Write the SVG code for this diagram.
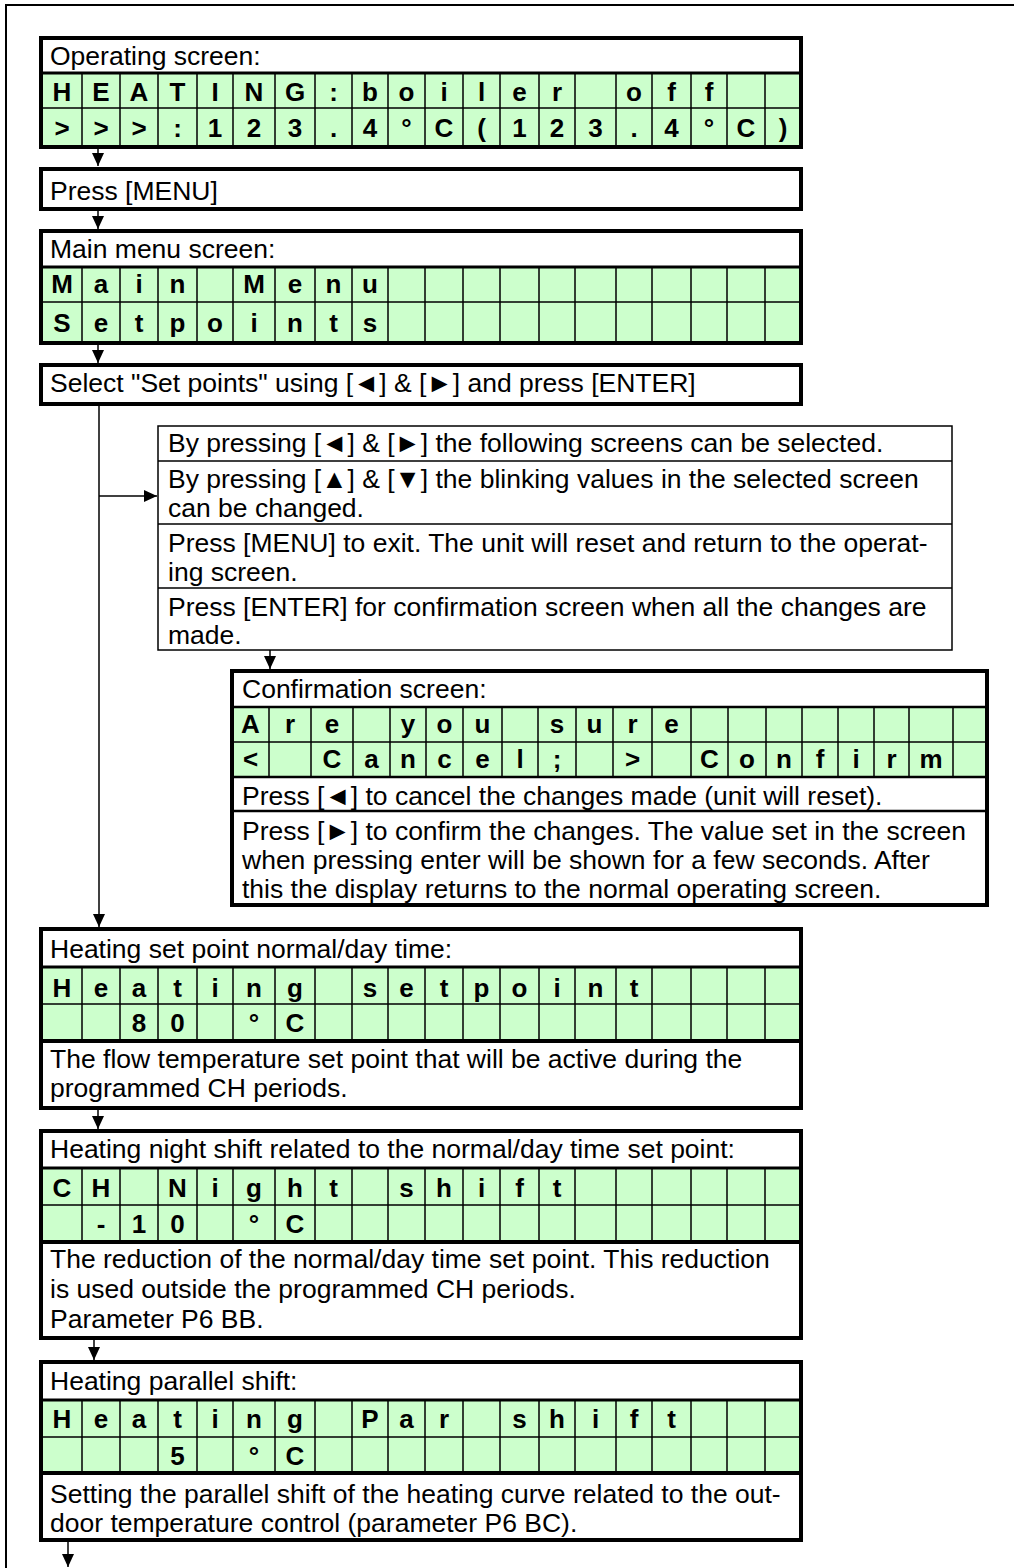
<svg xmlns="http://www.w3.org/2000/svg" width="1014" height="1568" viewBox="0 0 1014 1568">
<defs>
<style>
.t{font-family:"Liberation Sans",Arial,sans-serif;font-size:26.5px;fill:#000}
.c{font-family:"Liberation Sans",Arial,sans-serif;font-size:26px;font-weight:bold;text-anchor:middle;fill:#000}
.box{fill:#fff;stroke:#000;stroke-width:4}
.thin{fill:#fff;stroke:#000;stroke-width:1.5}
.g{fill:#CCFFCC}
.cl{stroke:#000;stroke-width:1.5;fill:none}
.d3{stroke:#000;stroke-width:3;fill:none}
.d4{stroke:#000;stroke-width:4;fill:none}
.conn{stroke:#000;stroke-width:1.5;fill:none;marker-end:url(#ah)}
</style>
<marker id="ah" markerUnits="userSpaceOnUse" markerWidth="13" markerHeight="12" viewBox="0 0 13 12" refX="13" refY="6" orient="auto">
<path d="M0,0 L13,6 L0,12 z" fill="#000"/>
</marker>
</defs>
<rect width="1014" height="1568" fill="#fff"/>
<path d="M6,1568 V5 H1014" fill="none" stroke="#000" stroke-width="2"/>

<g id="operating-screen">
<rect class="box" x="41" y="38" width="760" height="109"/>
<rect class="g" x="43" y="73" width="756" height="72"/>
<path class="cl" d="M82,73V147M120,73V147M158,73V147M197,73V147M233,73V147M275,73V147M315,73V147M352,73V147M388,73V147M425,73V147M463,73V147M500,73V147M539,73V147M575,73V147M616,73V147M652,73V147M691,73V147M727,73V147M765,73V147M41,108H801"/>
<path class="d3" d="M41,73H801"/>
<rect x="41" y="38" width="760" height="109" fill="none" stroke="#000" stroke-width="4"/>
<text class="t" x="50" y="65">Operating screen:</text>
<text class="c" y="101" x="62 101 139 177.5 215 254 295 333.5 370 406.5 444 481.5 519.5 557 634 671.5 709">HEATING:boileroff</text>
<text class="c" y="137" x="62 101 139 177.5 215 254 295 333.5 370 406.5 444 481.5 519.5 557 595.5 634 671.5 709 746 783">&gt;&gt;&gt;:123.4°C(123.4°C)</text>
</g>

<g id="press-menu">
<rect class="box" x="41" y="169" width="760" height="40"/>
<text class="t" x="50" y="200">Press [MENU]</text>
</g>

<g id="main-menu-screen">
<rect class="box" x="41" y="231" width="760" height="112"/>
<rect class="g" x="43" y="267" width="756" height="74"/>
<path class="cl" d="M82,267V343M120,267V343M158,267V343M197,267V343M233,267V343M275,267V343M315,267V343M352,267V343M388,267V343M425,267V343M463,267V343M500,267V343M539,267V343M575,267V343M616,267V343M652,267V343M691,267V343M727,267V343M765,267V343M41,302H801"/>
<path class="d3" d="M41,267H801"/>
<rect x="41" y="231" width="760" height="112" fill="none" stroke="#000" stroke-width="4"/>
<text class="t" x="50" y="258">Main menu screen:</text>
<text class="c" y="293" x="62 101 139 177.5 254 295 333.5 370">MainMenu</text>
<text class="c" y="332" x="62 101 139 177.5 215 254 295 333.5 370">Setpoints</text>
</g>

<g id="select-setpoints">
<rect class="box" x="41" y="365" width="760" height="39"/>
<text class="t" x="50" y="392">Select "Set points" using [◄] &amp; [►] and press [ENTER]</text>
</g>

<g id="instructions">
<rect class="thin" x="158" y="426" width="794" height="224"/>
<path class="cl" d="M158,461H952M158,524H952M158,588H952"/>
<text class="t" x="168" y="452">By pressing [◄] &amp; [►] the following screens can be selected.</text>
<text class="t" x="168" y="488">By pressing [▲] &amp; [▼] the blinking values in the selected screen</text>
<text class="t" x="168" y="517">can be changed.</text>
<text class="t" x="168" y="552">Press [MENU] to exit. The unit will reset and return to the operat-</text>
<text class="t" x="168" y="581">ing screen.</text>
<text class="t" x="168" y="616">Press [ENTER] for confirmation screen when all the changes are</text>
<text class="t" x="168" y="644">made.</text>
</g>

<g id="confirmation-screen">
<rect class="box" x="232" y="671" width="755" height="234"/>
<rect class="g" x="234" y="707" width="751" height="70"/>
<path class="cl" d="M269,707V777M311,707V777M353,707V777M390,707V777M426,707V777M463,707V777M502,707V777M538,707V777M576,707V777M613,707V777M652,707V777M691,707V777M728,707V777M766,707V777M802,707V777M838,707V777M874,707V777M909,707V777M953,707V777M232,742H987"/>
<path d="M232,707H987M232,777H987M232,811H987" stroke="#000" stroke-width="2.5" fill="none"/>
<rect x="232" y="671" width="755" height="234" fill="none" stroke="#000" stroke-width="4"/>
<text class="t" x="242" y="698">Confirmation screen:</text>
<text class="c" y="733" x="250.5 290 332 408 444.5 482.5 557 594.5 632.5 671.5">Areyousure</text>
<text class="c" y="768" x="250.5 332 371.5 408 444.5 482.5 520 557 632.5 709.5 747 784 820 856 891.5 931">&lt;Cancel;&gt;Confirm</text>
<text class="t" x="242" y="805">Press [◄] to cancel the changes made (unit will reset).</text>
<text class="t" x="242" y="840">Press [►] to confirm the changes. The value set in the screen</text>
<text class="t" x="242" y="869">when pressing enter will be shown for a few seconds. After</text>
<text class="t" x="242" y="898">this the display returns to the normal operating screen.</text>
</g>

<g id="heating-setpoint">
<rect class="box" x="41" y="929" width="760" height="179"/>
<rect class="g" x="43" y="967" width="756" height="74"/>
<path class="cl" d="M82,967V1041M120,967V1041M158,967V1041M197,967V1041M233,967V1041M275,967V1041M315,967V1041M352,967V1041M388,967V1041M425,967V1041M463,967V1041M500,967V1041M539,967V1041M575,967V1041M616,967V1041M652,967V1041M691,967V1041M727,967V1041M765,967V1041M41,1004H801"/>
<path class="d3" d="M41,967H801"/>
<path class="d4" d="M41,1041H801"/>
<rect x="41" y="929" width="760" height="179" fill="none" stroke="#000" stroke-width="4"/>
<text class="t" x="50" y="958">Heating set point normal/day time:</text>
<text class="c" y="997" x="62 101 139 177.5 215 254 295 370 406.5 444 481.5 519.5 557 595.5 634">Heatingsetpoint</text>
<text class="c" y="1032" x="139 177.5 254 295">80°C</text>
<text class="t" x="50" y="1068">The flow temperature set point that will be active during the</text>
<text class="t" x="50" y="1097">programmed CH periods.</text>
</g>

<g id="night-shift">
<rect class="box" x="41" y="1131" width="760" height="207"/>
<rect class="g" x="43" y="1168" width="756" height="74"/>
<path class="cl" d="M82,1168V1242M120,1168V1242M158,1168V1242M197,1168V1242M233,1168V1242M275,1168V1242M315,1168V1242M352,1168V1242M388,1168V1242M425,1168V1242M463,1168V1242M500,1168V1242M539,1168V1242M575,1168V1242M616,1168V1242M652,1168V1242M691,1168V1242M727,1168V1242M765,1168V1242M41,1205H801"/>
<path class="d3" d="M41,1168H801"/>
<path class="d4" d="M41,1242H801"/>
<rect x="41" y="1131" width="760" height="207" fill="none" stroke="#000" stroke-width="4"/>
<text class="t" x="50" y="1158">Heating night shift related to the normal/day time set point:</text>
<text class="c" y="1197" x="62 101 177.5 215 254 295 333.5 406.5 444 481.5 519.5 557">CHNightshift</text>
<text class="c" y="1233" x="101 139 177.5 254 295">-10°C</text>
<text class="t" x="50" y="1268">The reduction of the normal/day time set point. This reduction</text>
<text class="t" x="50" y="1298">is used outside the programmed CH periods.</text>
<text class="t" x="50" y="1328">Parameter P6 BB.</text>
</g>

<g id="parallel-shift">
<rect class="box" x="41" y="1362" width="760" height="178"/>
<rect class="g" x="43" y="1400" width="756" height="73"/>
<path class="cl" d="M82,1400V1473M120,1400V1473M158,1400V1473M197,1400V1473M233,1400V1473M275,1400V1473M315,1400V1473M352,1400V1473M388,1400V1473M425,1400V1473M463,1400V1473M500,1400V1473M539,1400V1473M575,1400V1473M616,1400V1473M652,1400V1473M691,1400V1473M727,1400V1473M765,1400V1473M41,1437H801"/>
<path class="d3" d="M41,1400H801"/>
<path class="d4" d="M41,1473H801"/>
<rect x="41" y="1362" width="760" height="178" fill="none" stroke="#000" stroke-width="4"/>
<text class="t" x="50" y="1390">Heating parallel shift:</text>
<text class="c" y="1428" x="62 101 139 177.5 215 254 295 370 406.5 444 519.5 557 595.5 634 671.5">HeatingParshift</text>
<text class="c" y="1465" x="177.5 254 295">5°C</text>
<text class="t" x="50" y="1503">Setting the parallel shift of the heating curve related to the out-</text>
<text class="t" x="50" y="1532">door temperature control (parameter P6 BC).</text>
</g>

<g id="connectors">
<line class="conn" x1="98" y1="149" x2="98" y2="166"/>
<line class="conn" x1="98" y1="211" x2="98" y2="229"/>
<line class="conn" x1="98" y1="345" x2="98" y2="363"/>
<line class="conn" x1="99" y1="406" x2="99" y2="927"/>
<line class="conn" x1="99" y1="496" x2="157" y2="496"/>
<line class="conn" x1="270" y1="650" x2="270" y2="669"/>
<line class="conn" x1="98" y1="1110" x2="98" y2="1129"/>
<line class="conn" x1="94" y1="1340" x2="94" y2="1360"/>
<line class="conn" x1="68" y1="1542" x2="68" y2="1567"/>
</g>
</svg>
